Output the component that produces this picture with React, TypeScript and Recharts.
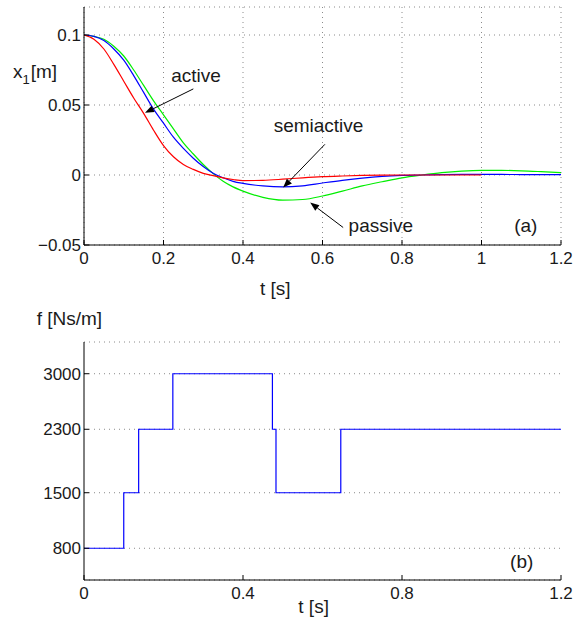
import React from 'react';
import { LineChart, Line, XAxis, YAxis, CartesianGrid, ReferenceLine } from 'recharts';

// (a) displacement x1 over time for the three suspensions
const time = [0, 0.025, 0.05, 0.075, 0.1, 0.125, 0.15, 0.175, 0.2, 0.225, 0.25, 0.275, 0.3, 0.325, 0.35, 0.375, 0.4,
    0.45, 0.5, 0.55, 0.6, 0.65, 0.7, 0.75, 0.8, 0.85, 0.9, 0.95, 1.0, 1.05, 1.1, 1.15, 1.2];
const active = [0.1, 0.097, 0.09, 0.079, 0.067, 0.055, 0.044, 0.032, 0.021, 0.013, 0.0075, 0.004, 0.0012, -0.0005, -0.002, -0.0032, -0.004,
    -0.0038, -0.003, -0.002, -0.0012, -0.0007, -0.0003, -0.0001, 0, 0, 0, 0, 0, null, null, null, null];
const semiactive = [0.1, 0.099, 0.096, 0.09, 0.082, 0.071, 0.059, 0.047, 0.037, 0.027, 0.019, 0.012, 0.006, 0.0012, -0.002, -0.0045, -0.006,
    -0.0078, -0.0085, -0.0077, -0.0057, -0.0038, -0.0022, -0.001, -0.0003, 0, 0.0003, 0.0004, 0.0004, 0.0004, 0.0003, 0.0002, 0.0002];
const passive = [0.1, 0.099, 0.097, 0.092, 0.085, 0.075, 0.064, 0.053, 0.043, 0.033, 0.023, 0.015, 0.0075, 0.001, -0.0045, -0.0085, -0.0115,
    -0.016, -0.018, -0.0175, -0.015, -0.0115, -0.0078, -0.0048, -0.002, 0, 0.0017, 0.0028, 0.0033, 0.0033, 0.003, 0.0024, 0.0017];

// (b) damping coefficient steps
const stepTime = [0, 0.1, 0.1375, 0.2235, 0.474, 0.483, 0.646, 1.2];
const stepDamping = [800, 1500, 2300, 3000, 2300, 1500, 2300, 2300];

const xTicksTop = [0, 0.2, 0.4, 0.6, 0.8, 1, 1.2];
const yTicksTop = [-0.05, 0, 0.05, 0.1];
const xTicksBottom = [0, 0.4, 0.8, 1.2];
const yTicksBottom = [800, 1500, 2300, 3000];

const motionRows = time.map((t, i) => ({ t, active: active[i], semiactive: semiactive[i], passive: passive[i] }));
const stepRows = stepTime.map((t, i) => ({ t, f: stepDamping[i] }));

const FONT = '"Liberation Sans", Arial, Helvetica, sans-serif';
const INK = '#1a1a1a';
const tickStyle = { fontSize: 17, fill: INK, fontFamily: FONT };
const axisStroke = { stroke: '#000', strokeWidth: 1 };

const fmt = (v: number) => (v === 0 ? '0' : String(v).replace('-', '\u2212'));

// line with a filled head at the (x2, y2) end
const Arrow = (p: any) => {
    const { x1, y1, x2, y2 } = p;
    if (x1 == null || x2 == null) return null;
    const a = Math.atan2(y2 - y1, x2 - x1);
    const len = 9;
    const half = 3.5;
    const bx = x2 - len * Math.cos(a);
    const by = y2 - len * Math.sin(a);
    const nx = -Math.sin(a) * half;
    const ny = Math.cos(a) * half;
    return (
        <g>
            <line x1={x1} y1={y1} x2={bx} y2={by} stroke="#000" strokeWidth={1} />
            <polygon points={`${x2},${y2} ${bx + nx},${by + ny} ${bx - nx},${by - ny}`} fill="#000" />
        </g>
    );
};

export default function App() {
    return (
        <div style={{ position: 'absolute', left: 0, top: 0, width: 574, height: 622, background: '#fff' }}>
            <div style={{ position: 'absolute', left: 0, top: 0 }}>
                <LineChart width={574} height={300} data={motionRows} margin={{ top: 7, right: 13, bottom: 24, left: 0 }}>
                    <CartesianGrid stroke="#8a8a8a" strokeDasharray="1 4" />
                    <XAxis dataKey="t" type="number" domain={[0, 1.2]} ticks={xTicksTop} interval={0} height={31}
                        tickSize={-5} tickMargin={12} tick={tickStyle} axisLine={axisStroke} tickLine={axisStroke} />
                    <XAxis xAxisId="top" orientation="top" dataKey="t" type="number" domain={[0, 1.2]} ticks={xTicksTop}
                        height={0} mirror tick={false} tickSize={5} axisLine={axisStroke} tickLine={axisStroke} />
                    <YAxis type="number" domain={[-0.05, 0.12]} ticks={yTicksTop} interval={0} width={84} tickFormatter={fmt}
                        tickSize={-5} tickMargin={8} tick={tickStyle} axisLine={axisStroke} tickLine={axisStroke} />
                    <YAxis yAxisId="right" orientation="right" type="number" domain={[-0.05, 0.12]} ticks={yTicksTop}
                        width={0} mirror tick={false} tickSize={5} axisLine={axisStroke} tickLine={axisStroke} />
                    <Line dataKey="passive" stroke="#00ee00" strokeWidth={1.2} dot={false} isAnimationActive={false} type="monotone" />
                    <Line dataKey="semiactive" stroke="#0000ff" strokeWidth={1.2} dot={false} isAnimationActive={false} type="monotone" />
                    <Line dataKey="active" stroke="#ff0000" strokeWidth={1.2} dot={false} isAnimationActive={false} type="monotone" />
                    <ReferenceLine segment={[{ x: 0.275, y: 0.0615 }, { x: 0.1535, y: 0.0444 }]} shape={Arrow} />
                    <ReferenceLine segment={[{ x: 0.606, y: 0.0219 }, { x: 0.501, y: -0.009 }]} shape={Arrow} />
                    <ReferenceLine segment={[{ x: 0.652, y: -0.0375 }, { x: 0.569, y: -0.0197 }]} shape={Arrow} />
                </LineChart>
            </div>
            <div style={{ position: 'absolute', left: 0, top: 300 }}>
                <LineChart width={574} height={322} data={stepRows} margin={{ top: 42, right: 13, bottom: 12, left: 0 }}>
                    <CartesianGrid stroke="#8a8a8a" strokeDasharray="1 4" vertical={false} />
                    <XAxis dataKey="t" type="number" domain={[0, 1.2]} ticks={xTicksBottom} interval={0} height={30}
                        tickSize={-5} tickMargin={12} tick={tickStyle} axisLine={axisStroke} tickLine={axisStroke} />
                    <XAxis xAxisId="top" orientation="top" dataKey="t" type="number" domain={[0, 1.2]} ticks={xTicksBottom}
                        height={0} mirror tick={false} tickSize={5} axisLine={axisStroke} tickLine={axisStroke} />
                    <YAxis type="number" domain={[400, 3400]} ticks={yTicksBottom} interval={0} width={84}
                        tickSize={-5} tickMargin={8} tick={tickStyle} axisLine={axisStroke} tickLine={axisStroke} />
                    <YAxis yAxisId="right" orientation="right" type="number" domain={[400, 3400]} ticks={yTicksBottom}
                        width={0} mirror tick={false} tickSize={5} axisLine={axisStroke} tickLine={axisStroke} />
                    <Line dataKey="f" type="stepAfter" stroke="#0000ff" strokeWidth={1.2} dot={false} isAnimationActive={false} />
                </LineChart>
            </div>
            <svg width={574} height={622} style={{ position: 'absolute', left: 0, top: 0, pointerEvents: 'none' }}
                fontFamily={FONT} fill={INK}>
                <text x={13} y={78} fontSize={19}>x<tspan dy={6} fontSize={13}>1</tspan><tspan dy={-6} dx={1}>[m]</tspan></text>
                <text x={196} y={81.5} fontSize={19} textAnchor="middle">active</text>
                <text x={318.5} y={131.5} fontSize={19} textAnchor="middle">semiactive</text>
                <text x={380.8} y={231.5} fontSize={19} textAnchor="middle">passive</text>
                <text x={525.8} y={231.5} fontSize={19} textAnchor="middle">(a)</text>
                <text x={260} y={295} fontSize={19}>t [s]</text>
                <text x={36.7} y={325} fontSize={19}>f [Ns/m]</text>
                <text x={521.7} y={568} fontSize={19} textAnchor="middle">(b)</text>
                <text x={298.3} y={613} fontSize={19}>t [s]</text>
            </svg>
        </div>
    );
}
